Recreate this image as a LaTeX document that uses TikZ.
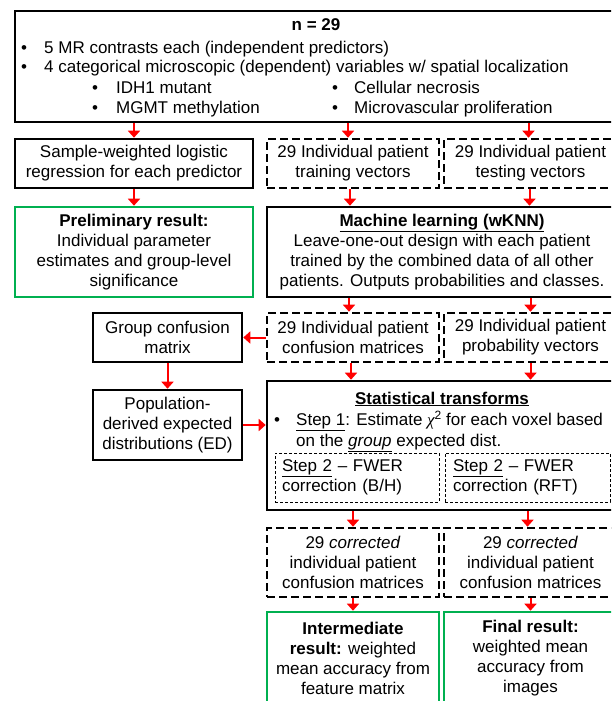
\documentclass[tikz,border=0pt]{standalone}
\usepackage{fontspec}
\setmainfont{Liberation Sans}
\newfontfamily\greekserif{Liberation Serif}
\usetikzlibrary{arrows.meta}
\definecolor{boxgreen}{RGB}{0,176,80}
\definecolor{arrred}{RGB}{255,0,0}
\newcommand{\fsz}{\fontsize{17}{20}\selectfont}
\begin{document}
\begin{tikzpicture}[x=1pt,y=-1pt,
  every node/.style={font=\fsz, inner sep=0pt},
  solidbox/.style={draw, line width=2.6pt, align=center},
  dashbox/.style={draw, line width=2.6pt, dash pattern=on 8pt off 4pt, align=center},
  greenbox/.style={draw=boxgreen, line width=2.6pt, align=center},
  thinbox/.style={draw, line width=0.9pt, dash pattern=on 3pt off 2pt, align=left},
  arr/.style={draw=arrred, color=arrred, line width=2pt, -{Triangle[width=12pt,length=7pt]}}
]
\useasboundingbox (0,0) rectangle (611,701);
\fill[white] (0,0) rectangle (611,701);
\clip (0,0) rectangle (611,701);

% top box
\node[solidbox, minimum width=602pt, minimum height=111pt] (top) at (316,66.5) {};
\node[anchor=base] (ntitle) at (316,31) {\textbf{n = 29}};
\node[anchor=base] (b1) at (24,53) {•};
\node[anchor=base west] (t1) at (44,53) {5 MR contrasts each (independent predictors)};
\node[anchor=base] (b2) at (24,73) {•};
\node[anchor=base west] (t2) at (44,73) {4 categorical microscopic (dependent) variables w/ spatial localization};
\node[anchor=base] (b3) at (95,93) {•};
\node[anchor=base west] (t3) at (116,93) {IDH1 mutant};
\node[anchor=base] (b4) at (95,113) {•};
\node[anchor=base west] (t4) at (116,113) {MGMT methylation};
\node[anchor=base] (b5) at (335,93) {•};
\node[anchor=base west] (t5) at (354,93) {Cellular necrosis};
\node[anchor=base] (b6) at (335,113) {•};
\node[anchor=base west] (t6) at (354,113) {Microvascular proliferation};

% row 2
\node[solidbox, minimum width=238pt, minimum height=49pt] (sample) at (134,163.5) {Sample-weighted logistic\\regression for each predictor};
\node[dashbox, minimum width=172pt, minimum height=49pt] (train) at (353,163.5) {29 Individual patient\\training vectors};
\node[dashbox, minimum width=173pt, minimum height=49pt] (test) at (530.5,163.5) {29 Individual patient\\testing vectors};

% row 3
\node[greenbox, minimum width=238pt, minimum height=90pt] (prelim) at (134,252) {\textbf{Preliminary result:}\\Individual parameter\\estimates and group-level\\significance};
\node[solidbox, minimum width=350pt, minimum height=90pt] (ml) at (442,252) {\textbf{\underline{Machine learning (wKNN)}}\\Leave-one-out design with each patient\\trained by the combined data of all other\\patients. Outputs probabilities and classes.};

% row 4
\node[solidbox, minimum width=149pt, minimum height=49pt] (group) at (167.5,337.5) {Group confusion\\matrix};
\node[dashbox, minimum width=172pt, minimum height=49pt] (conf) at (353,337.5) {29 Individual patient\\confusion matrices};
\node[dashbox, minimum width=173pt, minimum height=49pt] (prob) at (530.5,337.5) {29 Individual patient\\probability vectors};

% row 5
\node[solidbox, minimum width=149pt, minimum height=70pt] (pop) at (167.5,425) {Population-\\derived expected\\distributions (ED)};
\node[solidbox, minimum width=350pt, minimum height=129pt] (stat) at (442,445.5) {};
\node[anchor=base] (stitle) at (442,404) {\textbf{\underline{Statistical transforms}}};
\node[anchor=base] (sb1) at (277,425) {•};
\node[anchor=base west] (s1) at (296,425) {\underline{Step 1}: Estimate {\greekserif\itshape χ}\raisebox{6pt}{\fontsize{12}{12}\selectfont 2} for each voxel based};
\node[anchor=base west] (s1b) at (296,446) {on the \underline{\textit{group}} expected dist.};
\node[thinbox, minimum width=164pt, minimum height=49pt, text width=150pt, inner xsep=7pt] (bh) at (357,477.5) {\underline{Step 2} – FWER\\correction (B/H)};
\node[thinbox, minimum width=165pt, minimum height=49pt, text width=149pt, inner xsep=8pt] (rft) at (527.5,477.5) {\underline{Step 2} – FWER\\correction (RFT)};

% row 6
\node[dashbox, minimum width=172pt, minimum height=69pt] (corrb) at (353,562.5) {29 \textit{corrected}\\individual patient\\confusion matrices};
\node[dashbox, minimum width=173pt, minimum height=69pt] (corrf) at (530.5,562.5) {29 \textit{corrected}\\individual patient\\confusion matrices};

% row 7
\node[greenbox, minimum width=172pt, minimum height=92pt] (inter) at (353,658) {\textbf{Intermediate}\\\textbf{result:} weighted\\mean accuracy from\\feature matrix};
\node[greenbox, minimum width=173pt, minimum height=92pt] (final) at (530.5,658) {\textbf{Final result:}\\weighted mean\\accuracy from\\images};

% arrows
\draw[arr] (top.south -| sample.north) -- (sample.north);
\draw[arr] ([xshift=-5pt]top.south -| train.north) -- ([xshift=-5pt]train.north);
\draw[arr] ([xshift=-2pt]top.south -| test.north) -- ([xshift=-2pt]test.north);
\draw[arr] (sample.south) -- (prelim.north);
\draw[arr] ([xshift=-3pt]train.south) -- ([xshift=-3pt]train.south |- ml.north);
\draw[arr] ([xshift=-1pt]test.south) -- ([xshift=-1pt]test.south |- ml.north);
\draw[arr] ([xshift=-4pt]ml.south -| conf.north) -- ([xshift=-4pt]conf.north);
\draw[arr] (ml.south -| prob.north) -- (prob.north);
\draw[arr] (conf.west) -- (group.east);
\draw[arr] (group.south) -- (pop.north);
\draw[arr] ([xshift=-2pt]conf.south) -- ([xshift=-2pt]conf.south |- stat.north);
\draw[arr] (prob.south) -- (prob.south |- stat.north);
\draw[arr] (pop.east) -- (pop.east -| stat.west);
\draw[arr] (stat.south -| corrb.north) -- (corrb.north);
\draw[arr] ([xshift=-3pt]stat.south -| corrf.north) -- ([xshift=-3pt]corrf.north);
\draw[arr] (corrb.south) -- (inter.north);
\draw[arr] (corrf.south) -- (final.north);
\end{tikzpicture}
\end{document}
